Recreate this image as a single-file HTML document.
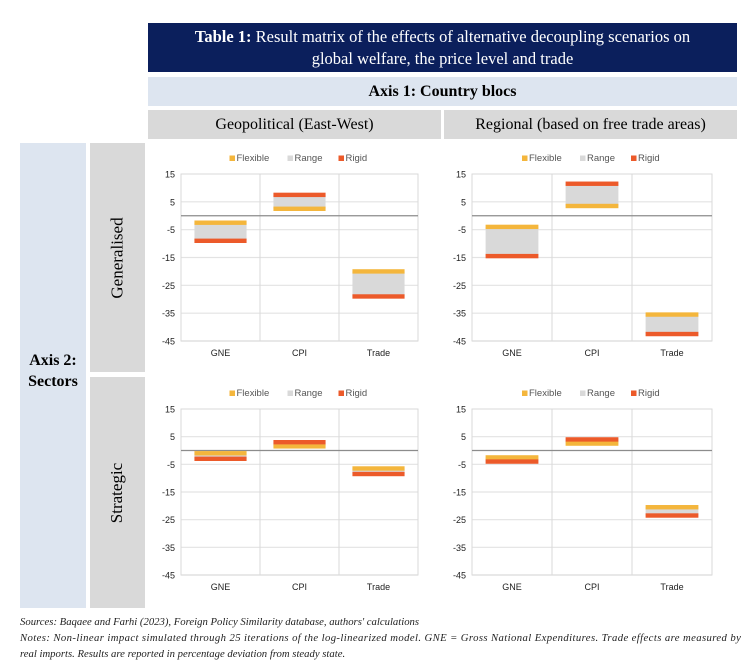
<!DOCTYPE html>
<html><head><meta charset="utf-8">
<style>
body{margin:0;width:752px;height:670px;background:#fff;position:relative;overflow:hidden;font-family:"Liberation Serif",serif;}
.box{position:absolute;box-sizing:border-box;display:flex;align-items:center;justify-content:center;text-align:center;}
.foot{position:absolute;left:20px;font-style:italic;font-size:10.7px;color:#222;line-height:15.5px;width:730px;white-space:nowrap;}
svg{position:absolute;left:0;top:0;}
</style></head><body>
<div class="box" style="left:148px;top:23px;width:589px;height:49px;background:#0b1f5c;color:#fff;font-size:16.5px;line-height:22px;">
<div><b>Table 1:</b> Result matrix of the effects of alternative decoupling scenarios on<br>global welfare, the price level and trade</div></div>
<div class="box" style="left:148px;top:77px;width:589px;height:29px;background:#dde5f0;font-size:16px;font-weight:bold;">Axis 1: Country blocs</div>
<div class="box" style="left:148px;top:110px;width:293px;height:29px;background:#d9d9d9;font-size:16px;">Geopolitical (East-West)</div>
<div class="box" style="left:444px;top:110px;width:293px;height:29px;background:#d9d9d9;font-size:16px;">Regional (based on free trade areas)</div>
<div class="box" style="left:20px;top:143px;width:66px;height:465px;background:#dde5f0;font-size:16px;font-weight:bold;line-height:21px;"><div style="margin-top:-10px">Axis 2:<br>Sectors</div></div>
<div class="box" style="left:90px;top:143px;width:55px;height:229px;background:#d9d9d9;"><div style="transform:rotate(-90deg);font-size:17px;white-space:nowrap;">Generalised</div></div>
<div class="box" style="left:90px;top:377px;width:55px;height:231px;background:#d9d9d9;"><div style="transform:rotate(-90deg);font-size:17px;white-space:nowrap;">Strategic</div></div>
<svg id="charts" width="752" height="670"></svg>
<div class="foot" style="top:615px;">Sources: Baqaee and Farhi (2023), Foreign Policy Similarity database, authors' calculations</div>
<div class="foot" style="top:631px;letter-spacing:0.4px;">Notes: Non-linear impact simulated through 25 iterations of the log-linearized model. GNE = Gross National Expenditures. Trade effects are measured by<br><span style="letter-spacing:0">real imports. Results are reported in percentage deviation from steady state.</span></div>
<script>
const categories=["GNE","CPI","Trade"];
const yTicks=[15,5,-5,-15,-25,-35,-45];
const flexGeoGen=[-2.5,2.5,-20];
const rigidGeoGen=[-9,7.5,-29];
const flexRegGen=[-4,3.5,-35.5];
const rigidRegGen=[-14.5,11.5,-42.5];
const flexGeoStr=[-1,1.5,-6.5];
const rigidGeoStr=[-3,3,-8.5];
const flexRegStr=[-2.5,2.5,-20.5];
const rigidRegStr=[-4,4,-23.5];
const NS="http://www.w3.org/2000/svg";
const svg=document.getElementById('charts');
function mk(tag,attrs,parent){const e=document.createElementNS(NS,tag);for(const k in attrs)e.setAttribute(k,attrs[k]);(parent||svg).appendChild(e);return e;}
function chart(name,px,py,pw,ph,flex,rigid){
  const g=mk('g',{});
  
  
  const y=v=>py+(15-v)/60*ph;
  const bw=pw/3;
  const x=i=>px+i*bw;
  yTicks.forEach(t=>{
    if(t!==15){const l=mk('line',{x1:px,x2:px+pw,y1:y(t),y2:y(t),stroke:'#e3e3e3','stroke-width':1.2},g);
    }
    const tx=mk('text',{x:px-6,y:y(t)+3.5,'text-anchor':'end','font-size':9,'font-family':'Liberation Sans, sans-serif',fill:'#222'},g);
    tx.textContent=t;
    
  });
  mk('rect',{x:px,y:py,width:pw,height:ph,fill:'none',stroke:'#d9d9d9','stroke-width':1},g);
  for(let i=1;i<3;i++)mk('line',{x1:x(i),x2:x(i),y1:py,y2:py+ph,stroke:'#d9d9d9','stroke-width':1},g);
  const z=mk('line',{x1:px,x2:px+pw,y1:y(0),y2:y(0),stroke:'#8c8c8c','stroke-width':1.3},g);
  
  categories.forEach((c,i)=>{
    const x0=x(i)+bw*0.17,w=bw*0.66;
    const hi=Math.max(flex[i],rigid[i]),lo=Math.min(flex[i],rigid[i]);
    const r=mk('rect',{x:x0,y:y(hi),width:w,height:y(lo)-y(hi),fill:'#d9d9d9'},g);
    
    const f=mk('rect',{x:x0,y:y(flex[i])-2.2,width:w,height:4.4,fill:'#f4b63c'},g);
    
    const rg=mk('rect',{x:x0,y:y(rigid[i])-2.2,width:w,height:4.4,fill:'#ec5a2a'},g);
    
    const t=mk('text',{x:x(i)+bw/2,y:py+ph+15,'text-anchor':'middle','font-size':9,'font-family':'Liberation Sans, sans-serif',fill:'#222'},g);
    t.textContent=c;
    
  });
  const ly=py-13;const lx=px+pw/2-70;
  [['Flexible','#f4b63c',0],['Range','#d9d9d9',58],['Rigid','#ec5a2a',109]].forEach(([n,col,dx])=>{
    const s=mk('rect',{x:lx+dx,y:ly-5.5,width:5.5,height:5.5,fill:col},g);
    
    const t=mk('text',{x:lx+dx+7,y:ly,'font-size':9.5,'font-family':'Liberation Sans, sans-serif',fill:'#555'},g);
    t.textContent=n;
    
  });
}
chart('chart-geopolitical-generalised',181,174,237,167,flexGeoGen,rigidGeoGen);
chart('chart-regional-generalised',472,174,240,167,flexRegGen,rigidRegGen);
chart('chart-geopolitical-strategic',181,409,237,166,flexGeoStr,rigidGeoStr);
chart('chart-regional-strategic',472,409,240,166,flexRegStr,rigidRegStr);
</script>
</body></html>
